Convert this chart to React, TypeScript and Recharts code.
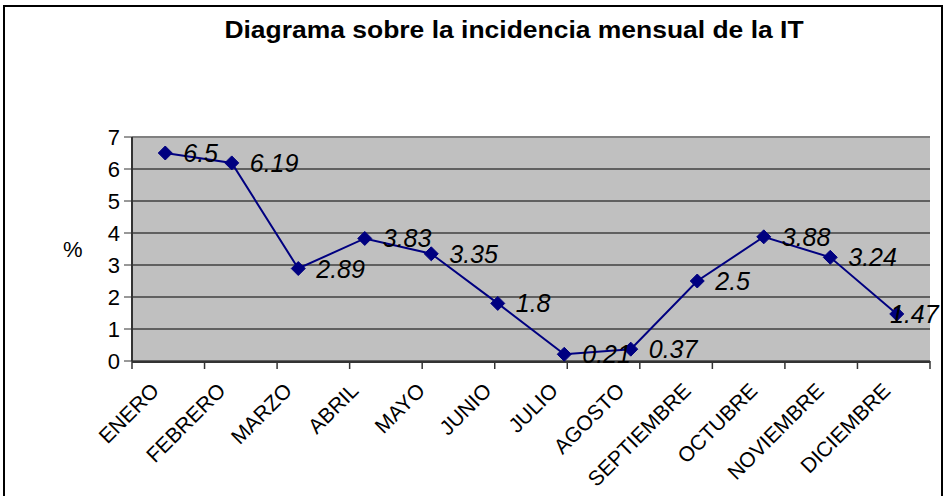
import React from "react";
import {
  ComposedChart,
  Line,
  XAxis,
  YAxis,
  CartesianGrid,
  ReferenceLine,
  LabelList,
} from "recharts";

const months = [
  "ENERO",
  "FEBRERO",
  "MARZO",
  "ABRIL",
  "MAYO",
  "JUNIO",
  "JULIO",
  "AGOSTO",
  "SEPTIEMBRE",
  "OCTUBRE",
  "NOVIEMBRE",
  "DICIEMBRE",
];
const incidence = [6.5, 6.19, 2.89, 3.83, 3.35, 1.8, 0.21, 0.37, 2.5, 3.88, 3.24, 1.47];
const yTicks = [0, 1, 2, 3, 4, 5, 6, 7];
const boundaryTicks = [0, 1, 2, 3, 4, 5, 6, 7, 8, 9, 10, 11, 12];

const title = "Diagrama sobre la incidencia mensual de la IT";

const data = months.map((month, i) => ({ month, value: incidence[i] }));

const FONT = "Arial, 'Liberation Sans', sans-serif";
const NAVY = "#000080";

const MonthTick = (props: any) => {
  const { x, y, payload } = props;
  return (
    <g transform={`translate(${x - 5},${y + 30})`}>
      <text
        x={0}
        y={0}
        textAnchor="end"
        transform="rotate(-45)"
        fontSize={21}
        fontFamily={FONT}
        fill="#000"
      >
        {payload.value}
      </text>
    </g>
  );
};

const EmptyTick = () => <g />;

const Diamond = (props: any) => {
  const { cx, cy } = props;
  if (cx == null || cy == null) return null;
  const r = 7;
  return (
    <path
      d={`M${cx},${cy - r}L${cx + r},${cy}L${cx},${cy + r}L${cx - r},${cy}Z`}
      fill={NAVY}
      stroke={NAVY}
    />
  );
};

const ValueLabel = (props: any) => {
  const { x, y, value } = props;
  const fs = 25;
  const text = String(value);
  const w = text.length * fs * 0.5;
  let tx = x + 18;
  if (tx + w > 940) tx = 940 - w;
  return (
    <text
      x={tx}
      y={y + 9}
      fontSize={fs}
      fontStyle="italic"
      fontFamily={FONT}
      fill="#000"
    >
      {text}
    </text>
  );
};

export default function App() {
  return (
    <div
      style={{
        position: "absolute",
        left: 0,
        top: 0,
        width: 945,
        height: 496,
        overflow: "hidden",
        background: "#fff",
      }}
    >
      <div
        style={{
          position: "absolute",
          left: 3,
          top: 5,
          width: 936,
          height: 520,
          border: "2px solid #000",
        }}
      />
      <div
        style={{
          position: "absolute",
          left: 214,
          top: 17,
          width: 600,
          textAlign: "center",
          fontFamily: FONT,
          fontWeight: "bold",
          fontSize: 23,
          color: "#000",
          transform: "scaleX(1.15)",
          transformOrigin: "center",
        }}
      >
        {title}
      </div>
      <div style={{ position: "absolute", left: 0, top: 0 }}>
        <ComposedChart
          width={945}
          height={496}
          data={data}
          margin={{ top: 137, right: 15, bottom: 35, left: 72 }}
        >
          <CartesianGrid
            vertical={false}
            stroke="#000"
            fill="#C0C0C0"
            fillOpacity={1}
          />
          <XAxis
            xAxisId={0}
            type="number"
            domain={[0, 12]}
            ticks={boundaryTicks}
            interval={0}
            height={1}
            axisLine={false}
            tick={<EmptyTick />}
            tickSize={8}
            tickLine={{ stroke: "#333", strokeWidth: 1.5 }}
          />
          <XAxis
            xAxisId="m"
            dataKey="month"
            scale="band"
            height={99}
            interval={0}
            tick={<MonthTick />}
            tickLine={false}
            tickSize={0}
            tickMargin={0}
            axisLine={{ stroke: "#333", strokeWidth: 2 }}
          />
          <YAxis
            domain={[0, 7]}
            ticks={yTicks}
            width={60}
            interval={0}
            tickSize={8}
            tickMargin={4}
            tick={{ fontSize: 22, fill: "#000", fontFamily: FONT }}
            axisLine={{ stroke: "#333", strokeWidth: 2 }}
            tickLine={{ stroke: "#333" }}
            label={{
              value: "%",
              position: "insideLeft",
              offset: -9,
              fontSize: 22,
              fill: "#000",
              fontFamily: FONT,
            }}
          />
          <YAxis
            yAxisId="r"
            orientation="right"
            domain={[0, 7]}
            width={0}
            tick={false}
            tickLine={false}
            axisLine={{ stroke: "#808080", strokeWidth: 2 }}
          />
          <ReferenceLine y={7} stroke="#808080" strokeWidth={2} />
          <Line
            xAxisId="m"
            dataKey="value"
            stroke={NAVY}
            strokeWidth={2}
            dot={<Diamond />}
            activeDot={false}
            isAnimationActive={false}
          >
            <LabelList dataKey="value" content={<ValueLabel />} />
          </Line>
        </ComposedChart>
      </div>
    </div>
  );
}
